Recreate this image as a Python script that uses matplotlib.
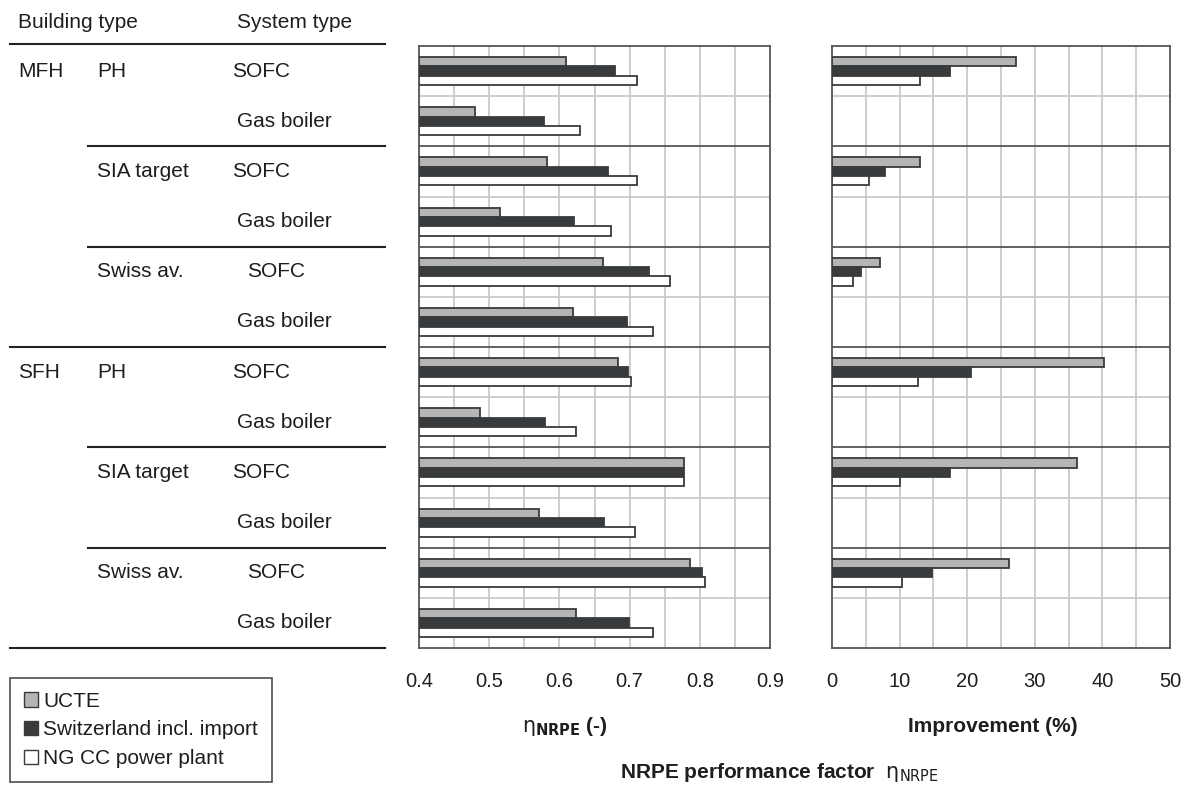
import matplotlib
matplotlib.use("Agg")
import matplotlib.pyplot as plt
from matplotlib.patches import Patch
import numpy as np

plt.rcParams['font.family'] = ['Liberation Sans', 'DejaVu Sans']

# ---------------- data ----------------
buildings = ["MFH", "SFH"]
standards = ["PH", "SIA target", "Swiss av."]
systems = ["SOFC", "Gas boiler"]
series = ["UCTE", "Switzerland incl. import", "NG CC power plant"]

# NRPE performance factor, rows: MFH-PH-SOFC, MFH-PH-Gas, ..., SFH-Swiss-Gas
eta_ucte  = [0.610, 0.480, 0.582, 0.516, 0.662, 0.619, 0.684, 0.487, 0.777, 0.571, 0.786, 0.623]
eta_swiss = [0.679, 0.578, 0.669, 0.621, 0.727, 0.697, 0.698, 0.579, 0.777, 0.663, 0.803, 0.699]
eta_ngcc  = [0.711, 0.630, 0.710, 0.673, 0.757, 0.734, 0.702, 0.624, 0.777, 0.707, 0.808, 0.734]

# Improvement (%) of SOFC vs gas boiler, one per building/standard group
imp_ucte  = [27.2, 13.0, 7.1, 40.3, 36.2, 26.2]
imp_swiss = [17.5, 7.9, 4.3, 20.5, 17.4, 14.8]
imp_ngcc  = [13.0, 5.4, 3.1, 12.7, 10.1, 10.3]

eta_ticks = [0.4, 0.5, 0.6, 0.7, 0.8, 0.9]
imp_ticks = [0, 10, 20, 30, 40, 50]

# ---------------- style ----------------
colors = ["#b5b5b5", "#383b3e", "#ffffff"]
edge = "#3a3a3a"
grid_c = "#c9c9c9"
sep_c = "#555555"
txtc = "#1e1e1e"
W, H = 1186, 786

fig = plt.figure(figsize=(W / 100, H / 100), dpi=100)

def fx(px):
    return px / W

def fy(py):
    return 1 - py / H

top, bot = 46, 648
nrows = len(buildings) * len(standards) * len(systems)
ax_b = fy(bot)
ax_h = fy(top) - fy(bot)

ax1 = fig.add_axes([fx(419), ax_b, fx(770) - fx(419), ax_h])
ax2 = fig.add_axes([fx(832), ax_b, fx(1170) - fx(832), ax_h])
axt = fig.add_axes([0, ax_b, fx(400), ax_h])

rows = np.arange(nrows) + 0.5
bh = 0.185
offs = [-bh, 0, bh]

for ax in (ax1, ax2):
    ax.set_ylim(nrows, 0)
    ax.tick_params(length=0, labelsize=14.5, pad=17, colors=txtc)
    ax.set_yticks([])
    for s in ax.spines.values():
        s.set_color(sep_c)
        s.set_linewidth(1.3)
    for r in range(1, nrows):
        if r % 2 == 0:
            ax.axhline(r, color=sep_c, lw=1.3, zorder=1)
        else:
            ax.axhline(r, color=grid_c, lw=1.3, zorder=1)

# middle panel
ax1.set_xlim(0.4, 0.9)
ax1.set_xticks(eta_ticks)
ax1.set_xticklabels([f"{t:.1f}" for t in eta_ticks])
for g in np.arange(0.45, 0.9, 0.05):
    ax1.axvline(g, color=grid_c, lw=1.3, zorder=0)
for vals, off, c in zip([eta_ucte, eta_swiss, eta_ngcc], offs, colors):
    ax1.barh(rows + off, np.array(vals) - 0.4, left=0.4, height=bh,
             color=c, edgecolor=edge, linewidth=1.3, zorder=3)

# right panel
ax2.set_xlim(0, 50)
ax2.set_xticks(imp_ticks)
for g in range(5, 50, 5):
    ax2.axvline(g, color=grid_c, lw=1.3, zorder=0)
sofc_rows = rows[0::2]
for vals, off, c in zip([imp_ucte, imp_swiss, imp_ngcc], offs, colors):
    ax2.barh(sofc_rows + off, vals, height=bh,
             color=c, edgecolor=edge, linewidth=1.3, zorder=3)

# ---------------- table on the left ----------------
axt.set_xlim(0, 400)
axt.set_ylim(nrows, 0)
axt.axis("off")
fs = 15
axt.text(18, -0.46, "Building type", fontsize=fs, va="center", ha="left", color=txtc, clip_on=False)
axt.text(237, -0.46, "System type", fontsize=fs, va="center", ha="left", color=txtc, clip_on=False)
axt.plot([10, 385], [-0.04, -0.04], color="#222222", lw=1.5, clip_on=False)
r = 0
for b in buildings:
    axt.text(18, r + 0.5, b, fontsize=fs, va="center", ha="left", color=txtc)
    for si, st in enumerate(standards):
        axt.text(97, r + 0.5, st, fontsize=fs, va="center", ha="left", color=txtc)
        for sy in systems:
            xs = 237 if sy != "SOFC" else (247 if st == "Swiss av." else 232)
            axt.text(xs, r + 0.5, sy, fontsize=fs, va="center", ha="left", color=txtc)
            r += 1
        if si < len(standards) - 1:
            axt.plot([88, 385], [r, r], color="#222222", lw=1.5, clip_on=False)
        else:
            axt.plot([10, 385], [r, r], color="#222222", lw=1.5, clip_on=False)

# ---------------- axis titles ----------------
fig.text(fx(565), fy(726), r"$\mathrm{\eta}_{\mathbf{NRPE}}$ (-)", fontsize=15, weight="bold",
         ha="center", va="center", color=txtc)
fig.text(fx(993), fy(726), "Improvement (%)", fontsize=15, weight="bold",
         ha="center", va="center", color=txtc)
fig.text(fx(779), fy(772), r"NRPE performance factor  $\mathrm{\eta}_{\mathrm{NRPE}}$", fontsize=15,
         weight="bold", ha="center", va="center", color=txtc)

# ---------------- legend ----------------
handles = [Patch(facecolor=c, edgecolor=edge, linewidth=1.0) for c in colors]
leg = fig.legend(handles, series, loc="upper left", bbox_to_anchor=(fx(10), fy(678)),
                 fontsize=15, frameon=True, fancybox=False, handlelength=0.7,
                 handleheight=0.7, handletextpad=0.25, borderpad=0.65, labelspacing=0.47,
                 borderaxespad=0)
leg.get_frame().set_edgecolor("#222222")
leg.get_frame().set_linewidth(1.2)
for t in leg.get_texts():
    t.set_color(txtc)

fig.savefig("out.png", dpi=100)
